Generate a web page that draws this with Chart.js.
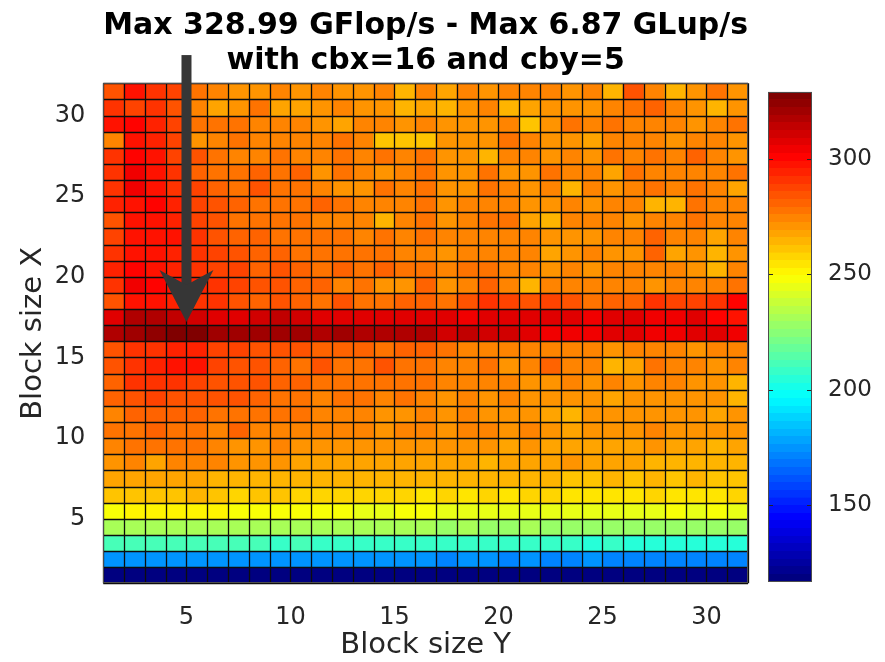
<!DOCTYPE html>
<html>
<head>
<meta charset="utf-8">
<script src="https://cdn.jsdelivr.net/npm/chart.js@4.4.1/dist/chart.umd.min.js"></script>
<style>
  html, body { margin: 0; background: #fff; }
  #wrap { position: relative; width: 885px; height: 662px; }
  #heat { position: absolute; left: 0; top: 0; }
  #cbar { position: absolute; left: 755px; top: 0; }
</style>
</head>
<body>
<div id="wrap">
  <canvas id="heat" width="760" height="662"></canvas>
  <canvas id="cbar" width="130" height="662"></canvas>
</div>
<script>
// ========== DATA ==========
// rows = block size X (1..31), columns = block size Y (1..31), GFlop/s
const blockX = [1,2,3,4,5,6,7,8,9,10,11,12,13,14,15,16,17,18,19,20,21,22,23,24,25,26,27,28,29,30,31];
const blockY = [1,2,3,4,5,6,7,8,9,10,11,12,13,14,15,16,17,18,19,20,21,22,23,24,25,26,27,28,29,30,31];

const gflops = [
  /* X=1  */ [119,120,119,120,119,118,119,120,119,120,119,119,120,119,118,119,120,119,119,120,119,118,119,120,119,119,120,118,119,117,119],
  /* X=2  */ [176,175,176,175,176,175,175,174,175,175,174,175,174,175,174,174,173,174,174,173,174,173,173,174,173,172,173,173,172,173,173],
  /* X=3  */ [211,210,211,210,211,210,210,210,209,210,209,209,209,208,209,208,208,208,207,208,207,207,207,206,207,206,206,205,204,205,206],
  /* X=4  */ [232,231,232,231,232,231,230,231,230,230,231,230,230,231,230,230,229,230,229,229,230,229,229,229,228,229,228,229,228,228,229],
  /* X=5  */ [248,250,250,250,250,250,247,248,247,247,247,247,245,245,247,247,245,246,245,246,245,246,245,246,245,245,246,247,246,247,245],
  /* X=6  */ [261,261,261,261,263,261,259,261,261,259,259,259,259,259,259,256,258,256,258,256,258,258,256,256,256,256,258,256,254,256,258],
  /* X=7  */ [269,269,268,269,268,266,266,264,264,266,264,264,264,264,264,263,264,264,263,263,263,264,261,261,263,261,263,261,263,261,261],
  /* X=8  */ [271,273,269,274,273,273,271,271,271,269,269,269,269,269,269,268,268,268,264,269,268,268,271,269,268,269,266,266,266,263,266],
  /* X=9  */ [274,277,276,279,276,274,272,272,273,272,272,271,272,272,271,271,271,272,272,269,272,269,267,269,267,269,272,267,267,264,267],
  /* X=10 */ [278,276,280,276,276,275,280,273,275,275,273,273,273,272,273,274,271,273,273,271,273,271,268,270,270,270,273,270,270,270,271],
  /* X=11 */ [275,280,281,280,281,278,278,278,276,276,275,275,275,271,270,274,271,273,271,271,270,268,266,270,270,270,270,270,270,268,270],
  /* X=12 */ [280,285,288,285,285,283,283,281,278,278,273,276,276,273,276,274,271,273,271,273,271,271,270,270,268,271,270,271,270,270,266],
  /* X=13 */ [281,291,291,291,288,285,283,285,281,280,278,276,278,278,276,276,273,273,275,273,271,271,273,270,273,271,273,273,270,270,265],
  /* X=14 */ [284,292,294,297,296,286,285,285,281,278,283,279,278,283,276,279,273,275,276,270,273,280,275,275,266,268,276,275,273,271,275],
  /* X=15 */ [283,292,292,294,294,288,286,285,283,285,281,280,281,278,280,280,278,275,275,275,275,273,275,275,270,275,275,273,270,275,273],
  /* X=16 */ [316,322,324,326,328.99,322,321,322,321,321,319,321,318,316,317,316,312,314,312,311,309,304,303,304,306,307,303,303,309,307,303],
  /* X=17 */ [306,317,316,314,312,309,309,311,313,312,307,309,307,307,306,309,306,304,309,307,307,306,309,303,306,307,303,303,306,301,299],
  /* X=18 */ [285,299,297,294,292,291,283,280,285,280,279,283,278,278,281,280,278,285,291,288,283,288,285,278,280,280,291,286,288,291,301],
  /* X=19 */ [291,305,300,297,294,291,286,285,283,281,280,275,276,271,270,281,271,275,280,275,265,273,274,274,273,273,270,273,275,273,276],
  /* X=20 */ [294,300,299,294,291,288,286,281,283,280,278,280,277,280,276,279,273,276,276,274,273,271,273,272,273,274,273,273,272,265,274],
  /* X=21 */ [291,298,297,294,291,286,283,281,280,276,277,279,276,278,273,275,270,274,275,275,273,268,271,273,271,272,280,268,270,264,270],
  /* X=22 */ [286,298,298,297,291,285,281,280,278,278,276,276,275,276,275,277,273,274,275,274,273,272,271,271,273,274,280,275,275,267,273],
  /* X=23 */ [285,298,298,294,288,283,278,278,277,276,275,275,273,266,273,276,270,274,277,277,267,266,273,273,275,272,275,273,276,273,275],
  /* X=24 */ [294,298,301,294,288,285,280,278,278,276,281,276,275,273,274,277,271,275,274,275,272,271,273,270,273,275,266,264,276,273,275],
  /* X=25 */ [291,303,298,292,286,281,278,283,276,276,275,271,270,276,275,277,271,271,276,273,270,275,264,273,272,273,276,275,278,273,268],
  /* X=26 */ [291,305,298,291,280,276,276,280,278,280,270,276,275,270,275,276,271,271,279,272,271,278,273,275,267,276,275,275,275,273,277],
  /* X=27 */ [291,300,297,286,283,276,273,275,276,275,275,277,275,278,273,276,270,271,266,275,275,271,275,272,276,275,278,275,281,275,270],
  /* X=28 */ [274,299,294,286,271,273,276,275,275,273,275,276,273,262,261,261,270,270,270,276,275,270,272,267,273,275,273,271,275,275,270],
  /* X=29 */ [298,300,294,286,278,276,276,275,275,274,271,268,273,275,271,275,270,271,270,275,262,271,277,274,278,275,273,274,270,275,279],
  /* X=30 */ [291,289,291,285,275,268,271,276,268,268,271,273,271,271,264,267,264,270,273,266,267,270,270,271,274,276,281,273,270,264,271],
  /* X=31 */ [283,298,291,286,276,275,271,271,275,272,274,271,270,273,266,273,269,273,271,275,273,274,270,275,265,283,275,264,271,276,270]
];

const xTicks  = [5, 10, 15, 20, 25, 30];
const yTicks  = [5, 10, 15, 20, 25, 30];
const cbTicks = [150, 200, 250, 300];

const TITLE = ['Max 328.99 GFlop/s - Max 6.87 GLup/s', 'with cbx=16 and cby=5'];
const ARROW = { x: 5, yTip: 17.2, yTail: 33.75 };   // annotation, in axis units

const FONT = '"DejaVu Sans", sans-serif';
const INK  = '#262626';

// ========== COLORMAP (jet, 64 levels) ==========
const JET = [[0,[0,0,128]],[.125,[0,0,255]],[.375,[0,255,255]],[.625,[255,255,0]],[.875,[255,0,0]],[1,[128,0,0]]];
function jetAt(t){
  t = Math.min(1, Math.max(0, t));
  for(let i=1;i<JET.length;i++){
    const [t1,c1] = JET[i];
    if(t <= t1){
      const [t0,c0] = JET[i-1];
      const f = (t-t0)/(t1-t0);
      const c = c0.map((a,k)=>Math.round(a+(c1[k]-a)*f));
      return `rgb(${c[0]},${c[1]},${c[2]})`;
    }
  }
  return 'rgb(128,0,0)';
}
const allVals = gflops.flat();
const cMin = Math.min(...allVals), cMax = Math.max(...allVals);
const level = v => Math.min(63, Math.floor((v-cMin)/(cMax-cMin)*64));
const colorFor = v => jetAt(level(v)/63);

// ========== CELLS ==========
const cells = [];
blockX.forEach((bx,i)=>{
  blockY.forEach((by,j)=>{
    cells.push({ x: by + 0.5, y: [bx, bx + 1], v: gflops[i][j] });
  });
});

// ========== PLUGINS ==========
// black pcolor edges, on every cell boundary of both scales
const cellEdges = {
  id:'cellEdges',
  afterDatasetsDraw(chart){
    const {ctx, chartArea:a, scales:{x,y}} = chart;
    ctx.save();
    ctx.strokeStyle = '#0d0d0d'; ctx.lineWidth = 1.3;
    ctx.beginPath();
    [...blockY, blockY[blockY.length-1]+1].forEach(v=>{
      const px = Math.round(x.getPixelForValue(v)) + 0.5;
      ctx.moveTo(px, a.top); ctx.lineTo(px, a.bottom);
    });
    [...blockX, blockX[blockX.length-1]+1].forEach(v=>{
      const py = Math.round(y.getPixelForValue(v)) + 0.5;
      ctx.moveTo(a.left, py); ctx.lineTo(a.right, py);
    });
    ctx.stroke();
    ctx.restore();
  }
};

const boxPlugin = {
  id:'box',
  afterDraw(chart){
    const {ctx, chartArea:a} = chart;
    ctx.save();
    ctx.strokeStyle = '#4d4d4d'; ctx.lineWidth = 1;
    ctx.strokeRect(Math.round(a.left)+0.5, Math.round(a.top)+0.5, Math.round(a.right-a.left)-1, Math.round(a.bottom-a.top)-1);
    ctx.restore();
  }
};

const cbTickMarks = {
  id:'cbTickMarks',
  afterDraw(chart){
    const {ctx, chartArea:a, scales:{y}} = chart;
    ctx.save();
    ctx.strokeStyle = '#262626'; ctx.lineWidth = 1;
    ctx.beginPath();
    cbTicks.forEach(v=>{
      const py = Math.round(y.getPixelForValue(v)) + 0.5;
      ctx.moveTo(a.right-5, py); ctx.lineTo(a.right, py);
      ctx.moveTo(a.left, py); ctx.lineTo(a.left+5, py);
    });
    ctx.stroke();
    ctx.restore();
  }
};

const arrowPlugin = {
  id:'arrow',
  afterDraw(chart){
    const {ctx, scales:{x,y}} = chart;
    const tx = x.getPixelForValue(ARROW.x);
    const ty = y.getPixelForValue(ARROW.yTip);
    const top = y.getPixelForValue(ARROW.yTail);
    ctx.save();
    ctx.fillStyle = '#363636';
    ctx.fillRect(tx-5, top, 10, (ty-36) - top);
    ctx.beginPath();
    ctx.moveTo(tx, ty);
    ctx.lineTo(tx-27, ty-52);
    ctx.lineTo(tx, ty-37);
    ctx.lineTo(tx+27, ty-52);
    ctx.closePath();
    ctx.fill();
    ctx.restore();
  }
};

// ========== HEATMAP ==========
new Chart(document.getElementById('heat'), {
  type:'bar',
  data:{ datasets:[{
    data: cells,
    backgroundColor: c => c.raw ? colorFor(c.raw.v) : '#000',
    borderWidth:0, inflateAmount:0.5, barPercentage:1, categoryPercentage:1
  }]},
  options:{
    responsive:false, animation:false, events:[],
    layout:{ padding:{ right:12 } },
    plugins:{
      legend:{display:false}, tooltip:{enabled:false},
      title:{ display:true, fullSize:false, text:TITLE, color:'#000',
        font:{family:FONT, size:30, weight:'bold', lineHeight:35/30},
        padding:{top:8.7, bottom:4.6} }
    },
    scales:{
      x:{ type:'linear', min:1, max:32, offset:false,
        grid:{display:false, offset:false}, border:{display:false},
        afterBuildTicks: s => { s.ticks = xTicks.map(v=>({value:v})); },
        afterFit: s => { s.height = 78.7; },
        ticks:{ font:{family:FONT, size:24}, color:INK, padding:12, maxRotation:0, autoSkip:false },
        title:{ display:true, text:'Block size Y', color:INK, font:{family:FONT, size:29}, padding:{top:0, bottom:-1} } },
      y:{ type:'linear', min:1, max:32,
        grid:{display:false}, border:{display:false},
        afterBuildTicks: s => { s.ticks = yTicks.map(v=>({value:v})); },
        afterFit: s => { s.width = 103.3; },
        ticks:{ font:{family:FONT, size:24}, color:INK, padding:10, autoSkip:false },
        title:{ display:true, text:'Block size X', color:INK, font:{family:FONT, size:29}, padding:{top:15.6, bottom:0} } }
    }
  },
  plugins:[cellEdges, boxPlugin, arrowPlugin]
});

// ========== COLORBAR ==========
new Chart(document.getElementById('cbar'), {
  type:'bar',
  data:{ labels:['GFlop/s'], datasets:[{
    data:[[cMin, cMax]],
    backgroundColor: c => {
      const ch = c.chart;
      if(!ch.chartArea) return 'transparent';
      const ys = ch.scales.y;
      const y0 = ys.getPixelForValue(cMin), y1 = ys.getPixelForValue(cMax);
      const g = ch.ctx.createLinearGradient(0, y0, 0, y1);
      for(let k=0;k<64;k++){
        const col = jetAt(k/63);
        g.addColorStop(k/64, col);
        g.addColorStop(Math.min(1,(k+1)/64 - 1e-4), col);
      }
      return g;
    },
    borderWidth:0, inflateAmount:0, barPercentage:1, categoryPercentage:1
  }]},
  options:{
    responsive:false, animation:false, events:[],
    layout:{ padding:{ left:13, top:91.7, bottom:80.3 } },
    plugins:{ legend:{display:false}, tooltip:{enabled:false} },
    scales:{
      x:{ display:false },
      y:{ position:'right', min:cMin, max:cMax,
        grid:{display:false}, border:{display:false},
        afterBuildTicks: s => { s.ticks = cbTicks.map(v=>({value:v})); },
        afterFit: s => { s.width = 73; },
        ticks:{ font:{family:FONT, size:23}, color:INK, padding:8 } }
    }
  },
  plugins:[cbTickMarks, boxPlugin]
});
</script>
</body>
</html>
